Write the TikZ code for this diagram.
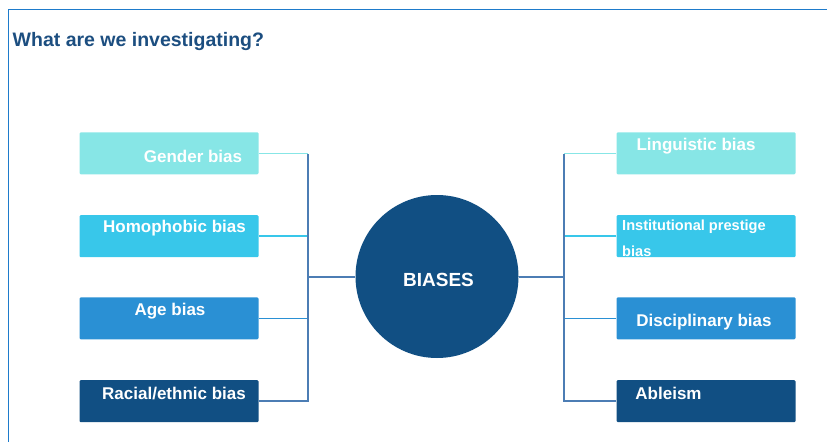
\documentclass[tikz,border=0pt]{standalone}
\usepackage{fontspec}
\setmainfont{Liberation Sans}
\usetikzlibrary{calc}

\definecolor{frameblue}{HTML}{1E7BCB}
\definecolor{titleblue}{HTML}{1C4E80}
\definecolor{palecyan}{HTML}{87E6E6}
\definecolor{midcyan}{HTML}{38C7EA}
\definecolor{midblue}{HTML}{2A90D4}
\definecolor{darkblue}{HTML}{114F83}
\definecolor{trunkblue}{HTML}{4C7DB4}

\begin{document}
\begin{tikzpicture}[x=1pt,y=-1pt,
%    every node/.style={draw},
    box/.style={rounded corners=1.2pt,minimum width=179pt,minimum height=42pt,inner sep=0pt},
    lbl/.style={text=white,font=\bfseries\fontsize{17}{20}\selectfont,inner sep=0pt},
    branch/.style={line width=1.6pt},
    trunk/.style={trunkblue,line width=2pt}]

    \useasboundingbox (0,0) rectangle (827,442);

    % frame and heading
    \draw[frameblue,line width=1.6pt] (827,9.5) -- (8.5,9.5) -- (8.5,442);
    \node[anchor=west,text=titleblue,font=\bfseries\fontsize{19.5}{22}\selectfont,inner sep=0pt]
      (title) at (12.5,41) {What are we investigating?};

    \node[circle,fill=darkblue,minimum size=163pt,inner sep=0pt] (hub) at (437,276.5) {};
    \node[lbl,font=\bfseries\fontsize{19}{22}\selectfont] (hubtxt) at (438.5,280) {BIASES};

    \begin{scope}[every node/.append style={box}]
      \node[fill=palecyan] (gender) at (169,153.3) {};
      \node[fill=midcyan] (homo) at (169,236.2) {};
      \node[fill=midblue] (age) at (169,318.3) {};
      \node[fill=darkblue] (race) at (169,401.2) {};

      \node[fill=palecyan] (ling) at (706,153.3) {};
      \node[fill=midcyan] (inst) at (706,236.2) {};
      \node[fill=midblue] (disc) at (706,318.3) {};
      \node[fill=darkblue] (able) at (706,401.2) {};
    \end{scope}

    \begin{scope}[every node/.append style={lbl}]
      \node (gendertxt) at (193,156) {Gender bias};
      \node (homotxt) at (174.5,228.5) {Homophobic bias};
      \node (agetxt) at (170,311) {Age bias};
      \node (racetxt) at (174,393.5) {Racial/ethnic bias};

      \node (lingtxt) at (696,146) {Linguistic bias};
      \node[anchor=west,align=left,font=\bfseries\fontsize{14.6}{26}\selectfont]
        (insttxt) at (622,238) {Institutional prestige\\bias};
      \node (disctxt) at (704,322) {Disciplinary bias};
      \node (abletxt) at (668.5,393.5) {Ableism};
    \end{scope}

    \coordinate (ltop) at (307.5,154);
    \coordinate (lbot) at (307.5,402);
    \coordinate (rtop) at (563.5,154);
    \coordinate (rbot) at (563.5,402);

    % branches
    \draw[branch,palecyan] (gender.east) -- (gender.east -| ltop);
    \draw[branch,midcyan] (homo.east) -- (homo.east -| ltop);
    \draw[branch,midblue] (age.east) -- (age.east -| ltop);
    \draw[branch,trunkblue] (race.east) -- (race.east -| ltop);

    \draw[branch,palecyan] (ling.west) -- (ling.west -| rtop);
    \draw[branch,midcyan] (inst.west) -- (inst.west -| rtop);
    \draw[branch,midblue] (disc.west) -- (disc.west -| rtop);
    \draw[branch,trunkblue] (able.west) -- (able.west -| rtop);

    \draw[trunk] (ltop) -- (lbot);
    \draw[trunk] (rtop) -- (rbot);
    \draw[trunk] (hub.west) -- (hub.west -| ltop);
    \draw[trunk] (hub.east) -- (hub.east -| rtop);
  \end{tikzpicture}
\end{document}
